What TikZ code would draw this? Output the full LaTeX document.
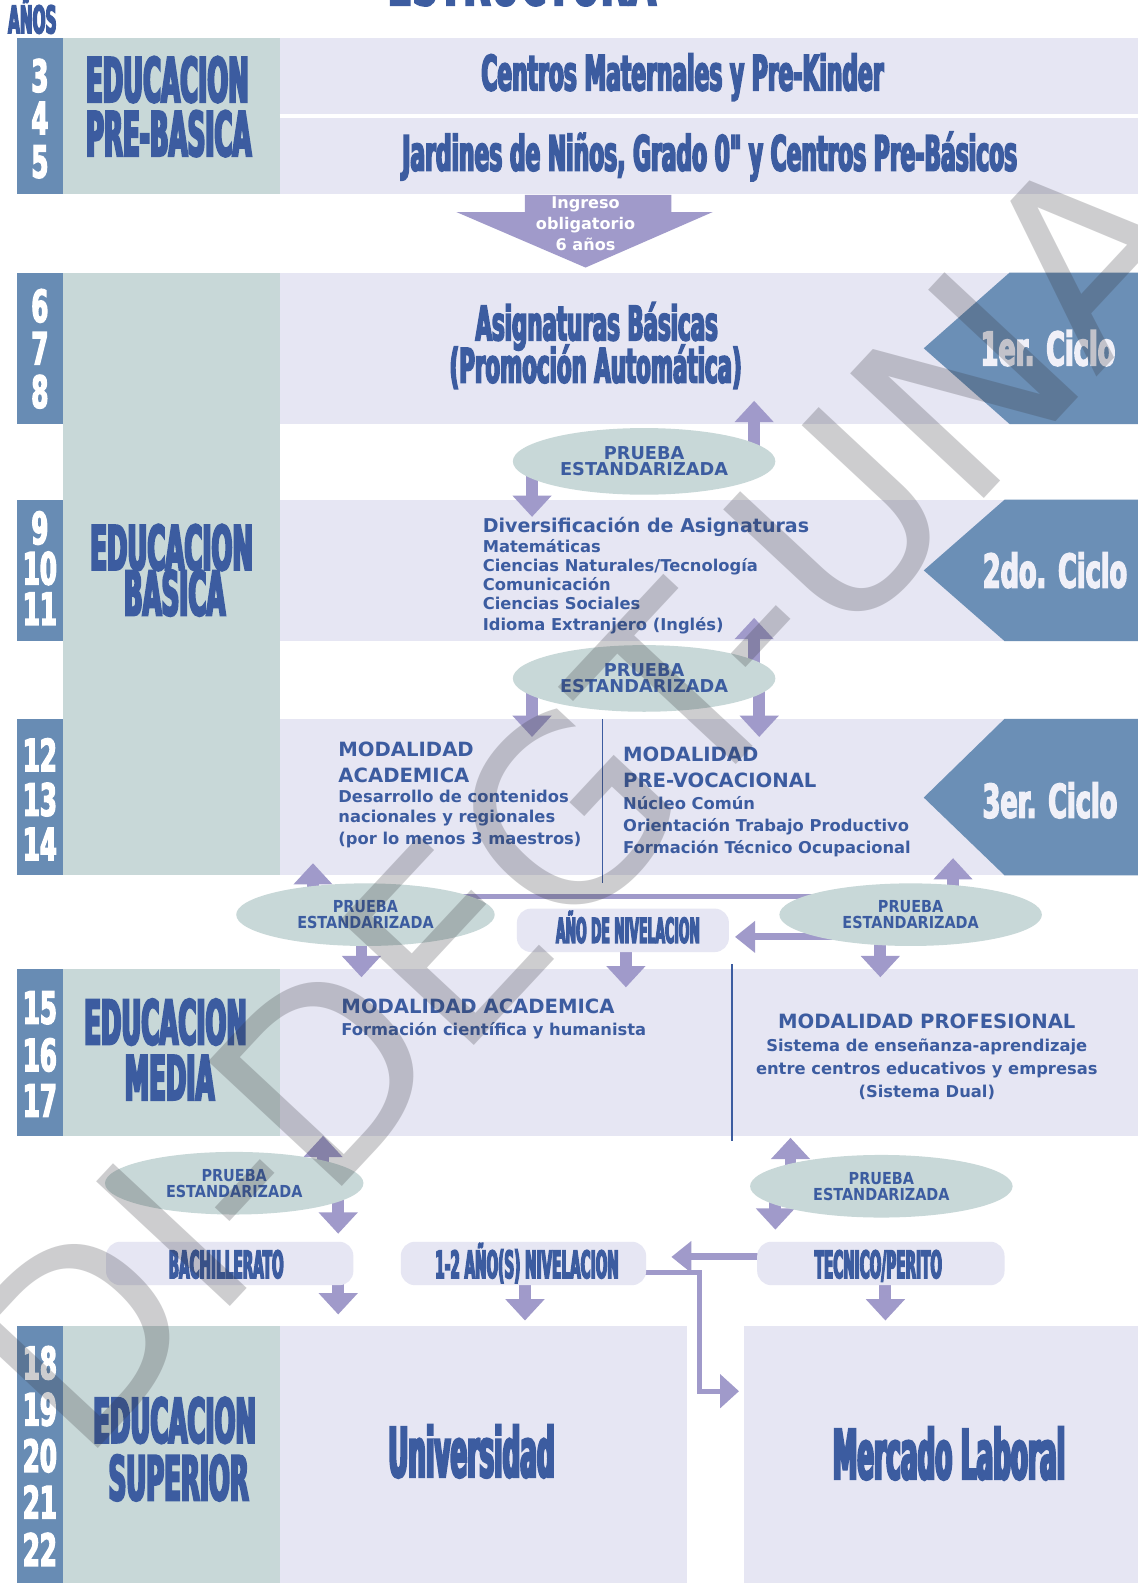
\documentclass[tikz,border=0pt]{standalone}
\usepackage{fontspec}
\usetikzlibrary{arrows.meta,shapes.geometric,calc}
\newfontfamily\impH{DejaVu Sans Bold}[FakeStretch=0.40,FakeBold=3.5]
\newfontfamily\impA{DejaVu Sans Bold}[FakeStretch=0.45,FakeBold=3.5]
\newfontfamily\impB{DejaVu Sans Bold}[FakeStretch=0.55,FakeBold=3]
\newfontfamily\impC{DejaVu Sans Bold}[FakeStretch=0.36,FakeBold=3.5]
\newfontfamily\verd{DejaVu Sans Bold}
\newfontfamily\verdC{DejaVu Sans Bold}[FakeStretch=0.87]
\newfontfamily\wmf{DejaVu Sans}
\newcommand\fsz[2]{\fontsize{#1pt}{#2pt}\selectfont}
\definecolor{agecol}{RGB}{104,140,180}
\definecolor{greencol}{RGB}{200,216,216}
\definecolor{boxcol}{RGB}{230,230,243}
\definecolor{txtblue}{RGB}{60,92,160}
\definecolor{arrcol}{RGB}{160,154,202}
\definecolor{chevcol}{RGB}{107,143,182}
\definecolor{wmcol}{RGB}{50,50,56}
\definecolor{cyctxtcol}{RGB}{240,240,248}
\begin{document}
\begin{tikzpicture}[x=0.03cm,y=-0.03cm,
 agetxt/.style={anchor=base, text=white, font={\impB\fsz{37.6}{40}}, inner sep=0pt},
 headtxt/.style={anchor=base, text=txtblue, font={\impH\fsz{51.9}{54}}, inner sep=0pt},
 bigtxt/.style={anchor=base, text=txtblue, font={\impA\fsz{41}{44}}, inner sep=0pt},
 cyctxt/.style={anchor=base, text=cyctxtcol, font={\impB\fsz{39.3}{42}}, inner sep=0pt},
 captxt/.style={anchor=base, text=txtblue, font={\impC\fsz{32}{34}}, inner sep=0pt},
 bodytxt/.style={anchor=base west, text=txtblue, font={\verd\fsz{13.8}{16}}, inner sep=0pt},
 modtxt/.style={anchor=base west, text=txtblue, font={\verd\fsz{16.6}{18}}, inner sep=0pt},
 ingtxt/.style={anchor=base, text=white, font={\verd\fsz{13.6}{17}}, inner sep=0pt},
 pell/.style={ellipse, fill=greencol, inner sep=0pt, align=center, text=txtblue, font={\verd\fsz{15}{13.7}}},
 pellc/.style={pell, font={\verdC\fsz{14}{13.7}}},
 rbox/.style={rectangle, rounded corners=12pt, fill=boxcol, inner sep=0pt},
 barrow/.style={draw=arrcol, line width=10pt, -{Triangle[width=32pt,length=18pt]}},
 harrow/.style={draw=arrcol, line width=6pt, -{Triangle[width=26pt,length=17pt]}},
 elbow/.style={draw=arrcol, line width=4.3pt, -{Triangle[width=28pt,length=16pt]}},
 pline/.style={draw=arrcol, line width=3.4pt},
 divline/.style={draw=txtblue, line width=1.3pt}
]
\useasboundingbox (0,0) rectangle (1127,1568);
\fill[white] (0,0) rectangle (1127,1568);

% title (cropped)
\node[anchor=base, text=txtblue, font={\impB\fsz{55.5}{58}}, inner sep=0pt] (tit) at (517,5) {ESTRUCTURA};
\node[anchor=base, text=txtblue, font={\impH\fsz{32.2}{34}}, inner sep=0pt] (anos) at (32,33) {AÑOS};

% age columns
\fill[agecol] (17,38) rectangle (62,192);
\fill[agecol] (17,270) rectangle (62,420);
\fill[agecol] (17,495) rectangle (62,635);
\fill[agecol] (17,712) rectangle (62,867);
\fill[agecol] (17,960) rectangle (62,1125);
\fill[agecol] (17,1313) rectangle (62,1568);
% level columns
\fill[greencol] (62,38) rectangle (277,192);
\fill[greencol] (62,270) rectangle (277,867);
\fill[greencol] (62,960) rectangle (277,1125);
\fill[greencol] (62,1313) rectangle (277,1568);
% content boxes
\fill[boxcol] (277,38) rectangle (1127,192);
\draw[white, line width=3.4pt] (277,115) -- (1127,115);
\fill[boxcol] (277,270) rectangle (1127,420);
\fill[boxcol] (277,495) rectangle (1127,635);
\fill[boxcol] (277,712) rectangle (1127,867);
\fill[boxcol] (277,960) rectangle (1127,1125);
\fill[boxcol] (277,1313) rectangle (680,1568);
\fill[boxcol] (737,1313) rectangle (1127,1568);

% ingreso arrow
\fill[arrcol] (520,193) -- (665,193) -- (665,210) -- (706,210) -- (580,265) -- (452,210) -- (520,210) -- cycle;
\node[ingtxt] (ing1) at (580,207) {Ingreso};
\node[ingtxt] (ing2) at (580,227) {obligatorio};
\node[ingtxt] (ing3) at (580,248) {6 años};

% chevrons
\fill[chevcol] (915,345) -- (1000,270) -- (1127,270) -- (1127,420) -- (1000,420) -- cycle;
\fill[chevcol] (915,565) -- (995,495) -- (1127,495) -- (1127,635) -- (995,635) -- cycle;
\fill[chevcol] (915,790) -- (995,712) -- (1127,712) -- (1127,867) -- (995,867) -- cycle;
\node[cyctxt] (c1) at (1038,362) {1er. Ciclo};
\node[cyctxt] (c2) at (1045,582) {2do. Ciclo};
\node[cyctxt] (c3) at (1040,810) {3er. Ciclo};

% dividers
\draw[divline] (597,712) -- (597,875);
\draw[divline] (725,955) -- (725,1130);

% ages
\foreach \t/\y in {3/91,4/133,5/176,6/319,7/361,8/404,9/539,10/579,11/619,12/764,13/808,14/852,15/1014,16/1061,17/1106,18/1366,19/1412,20/1458,21/1504,22/1551}
  \node[agetxt] (age\t) at (39.5,\y) {\t};

% level headings
\node[headtxt, anchor=base west] (pb1) at (85,101) {EDUCACION};
\node[headtxt, anchor=base west] (pb2) at (85,154.5) {PRE-BASICA};
\node[headtxt] (eb1) at (170,564.5) {EDUCACION};
\node[headtxt] (eb2) at (173,609.5) {BASICA};
\node[headtxt] (em1) at (164,1034.5) {EDUCACION};
\node[headtxt] (em2) at (168,1089.5) {MEDIA};
\node[headtxt] (es1) at (173,1429) {EDUCACION};
\node[headtxt] (es2) at (177,1486) {SUPERIOR};

% pre-basica contents
\node[bigtxt] (cm) at (676,89.5) {Centros Maternales y Pre-Kinder};
\node[bigtxt] (jn) at (703,169) {Jardines de Niños, Grado 0" y Centros Pre-Básicos};

% 1er ciclo
\node[bigtxt, font={\impA\fsz{40.1}{42}}] (ab1) at (591,337) {Asignaturas Básicas};
\node[bigtxt, font={\impA\fsz{40.1}{42}}] (ab2) at (590,379) {(Promoción Automática)};

% 2do ciclo
\node[bodytxt, font={\verd\fsz{16.1}{18}}] (dv0) at (478,527) {Diversificación de Asignaturas};
\node[bodytxt] (dv1) at (478,547) {Matemáticas};
\node[bodytxt] (dv2) at (478,566) {Ciencias Naturales/Tecnología};
\node[bodytxt] (dv3) at (478,585) {Comunicación};
\node[bodytxt] (dv4) at (478,604) {Ciencias Sociales};
\node[bodytxt] (dv5) at (478,625) {Idioma Extranjero (Inglés)};

% 3er ciclo
\node[modtxt] (ma1) at (335,749) {MODALIDAD};
\node[modtxt] (ma2) at (335,775) {ACADEMICA};
\node[bodytxt] (ma3) at (335,795) {Desarrollo de contenidos};
\node[bodytxt] (ma4) at (335,815) {nacionales y regionales};
\node[bodytxt] (ma5) at (335,836) {(por lo menos 3 maestros)};
\node[modtxt] (mv1) at (617,754) {MODALIDAD};
\node[modtxt] (mv2) at (617,780) {PRE-VOCACIONAL};
\node[bodytxt] (mv3) at (617,802) {Núcleo Común};
\node[bodytxt] (mv4) at (617,824) {Orientación Trabajo Productivo};
\node[bodytxt] (mv5) at (617,845) {Formación Técnico Ocupacional};

% media
\node[modtxt] (md1) at (338,1004) {MODALIDAD ACADEMICA};
\node[bodytxt] (md2) at (338,1026) {Formación científica y humanista};
\node[modtxt, anchor=base] (mp1) at (918,1019) {MODALIDAD PROFESIONAL};
\node[bodytxt, anchor=base] (mp2) at (918,1042) {Sistema de enseñanza-aprendizaje};
\node[bodytxt, anchor=base] (mp3) at (918,1064) {entre centros educativos y empresas};
\node[bodytxt, anchor=base] (mp4) at (918,1087) {(Sistema Dual)};

% superior
\node[captxt, font={\impC\fsz{58}{60}}] (univ) at (467,1463) {Universidad};
\node[captxt, font={\impC\fsz{58}{60}}] (merc) at (940,1465) {Mercado Laboral};

% connectors (behind ellipses and boxes)
\draw[pline] (440,888) -- (810,888);
\draw[barrow] (747,457) -- (747,397);
\draw[barrow] (527,457) -- (527,512);
\draw[barrow] (747,672) -- (747,612);
\draw[barrow] (527,672) -- (527,730);
\draw[barrow] (752,672) -- (752,730);
\draw[barrow] (310,906) -- (310,855);
\draw[barrow] (358,906) -- (358,968);
\draw[barrow] (620,925) -- (620,978);
\draw[barrow] (944,906) -- (944,850);
\draw[barrow] (872,906) -- (872,968);
\draw[harrow] (830,928) -- (728,928);
\draw[barrow] (320,1172) -- (320,1125);
\draw[barrow] (335,1172) -- (335,1222);
\draw[barrow] (335,1255) -- (335,1302);
\draw[barrow] (520,1255) -- (520,1308);
\draw[barrow] (783,1175) -- (783,1127);
\draw[barrow] (768,1175) -- (768,1218);
\draw[barrow] (877,1255) -- (877,1308);
\draw[harrow] (770,1245) -- (665,1245);
\draw[elbow] (630,1260) -- (693,1260) -- (693,1378) -- (732,1378);

% ellipses
\node[pell, minimum width=7.8cm, minimum height=1.98cm] (e1) at (638,457) {PRUEBA\\ESTANDARIZADA};
\node[pell, minimum width=7.8cm, minimum height=1.98cm] (e2) at (638,672) {PRUEBA\\ESTANDARIZADA};
\node[pellc, minimum width=7.68cm, minimum height=1.86cm] (e3) at (362,906) {PRUEBA\\ESTANDARIZADA};
\node[pellc, minimum width=7.8cm, minimum height=1.86cm] (e4) at (902,906) {PRUEBA\\ESTANDARIZADA};
\node[pellc, minimum width=7.68cm, minimum height=1.86cm] (e5) at (232,1172) {PRUEBA\\ESTANDARIZADA};
\node[pellc, minimum width=7.8cm, minimum height=1.86cm] (e6) at (873,1175) {PRUEBA\\ESTANDARIZADA};

% rounded caption boxes
\node[rbox, minimum width=6.3cm, minimum height=1.29cm] (anobox) at (617,921.5) {};
\node[captxt, font={\impC\fsz{29.3}{31}}] (anotxt) at (622,934) {AÑO DE NIVELACION};
\node[rbox, minimum width=7.35cm, minimum height=1.29cm] (bachbox) at (227.5,1251.5) {};
\node[captxt] (bachtxt) at (224,1266) {BACHILLERATO};
\node[rbox, minimum width=7.29cm, minimum height=1.29cm] (nivbox) at (518.5,1251.5) {};
\node[captxt] (nivtxt) at (522,1266) {1-2 AÑO(S) NIVELACION};
\node[rbox, minimum width=7.35cm, minimum height=1.29cm] (tecbox) at (872.5,1251.5) {};
\node[captxt] (tectxt) at (870,1266) {TECNICO/PERITO};

% watermark
\node[rotate=47, text=wmcol, text opacity=0.24, font={\wmf\fsz{212}{214}}, inner sep=0pt] (wm) at (575,790) {DI-DEGT-UNA};
\end{tikzpicture}
\end{document}
